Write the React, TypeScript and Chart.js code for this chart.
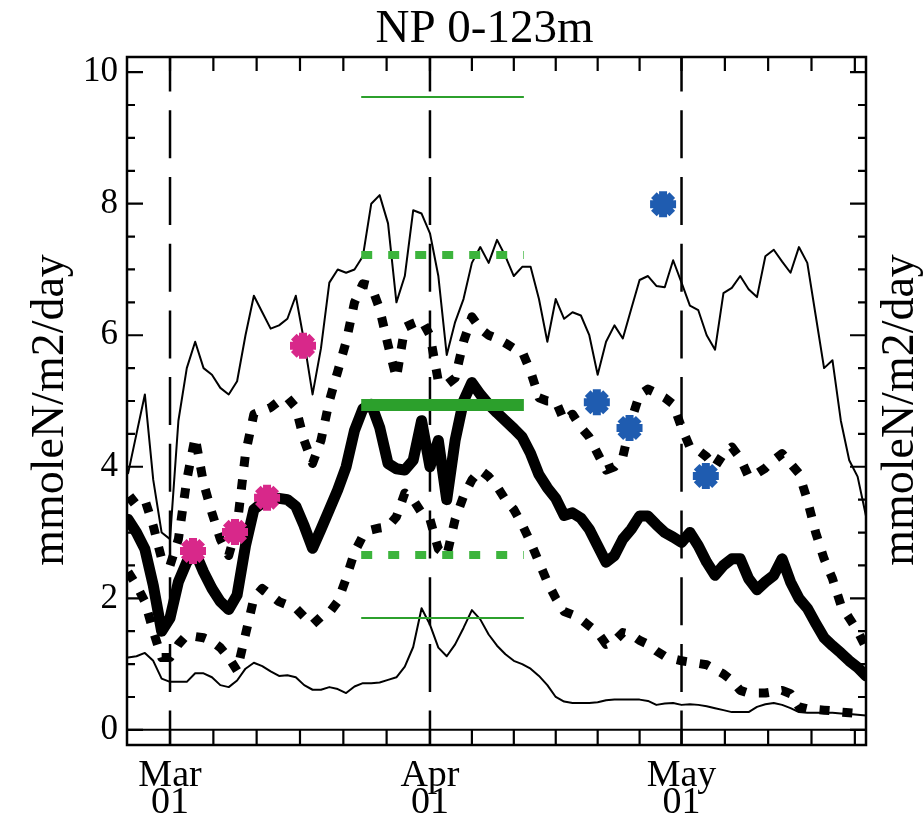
import React, { useEffect, useRef } from "react";
import { Chart, registerables } from "chart.js";

Chart.register(...registerables);

const chartTitle = "NP 0-123m";
const axisTitle = "mmoleN/m2/day";

// days counted from 1 March
const days = [
  -5, -4, -3, -2, -1, 0, 1, 2, 3, 4, 5, 6, 7, 8, 9, 10, 11, 12, 13, 14, 15, 16, 17, 18, 19, 20,
  21, 22, 23, 24, 25, 26, 27, 28, 29, 30, 31, 32, 33, 34, 35, 36, 37, 38, 39, 40, 41, 42, 43, 44,
  45, 46, 47, 48, 49, 50, 51, 52, 53, 54, 55, 56, 57, 58, 59, 60, 61, 62, 63, 64, 65, 66, 67, 68,
  69, 70, 71, 72, 73, 74, 75, 76, 77, 78, 79, 80, 81, 82, 83,
];

const maxFlux = [
  3.9, 4.5, 5.1, 3.8, 3.0, 2.9,
  4.7, 5.5, 5.9, 5.5, 5.4, 5.2, 5.1, 5.3, 6.0, 6.6,
  6.35, 6.1, 6.15, 6.25, 6.6, 5.9, 5.1, 5.8, 6.8, 7.0,
  6.95, 7.0, 7.2, 8.0, 8.13, 7.7, 6.5, 6.9, 7.9, 7.85,
  7.55, 6.9, 5.7, 6.2, 6.55, 7.1, 7.34, 7.1, 7.45, 7.2,
  6.9, 7.04, 7.04, 6.55, 5.9, 6.55, 6.25, 6.35, 6.3, 6.0,
  5.4, 5.9, 6.15, 5.95, 6.4, 6.84, 6.9, 6.75, 6.73, 7.14,
  6.8, 6.45, 6.38, 6.0, 5.78, 6.64, 6.72, 6.9, 6.7, 6.58,
  7.2, 7.3, 7.12, 6.95, 7.34, 7.1, 6.3, 5.5, 5.62, 4.7,
  4.1, 3.85, 3.25,
];

const minFlux = [
  1.1, 1.12, 1.17, 1.05, 0.78, 0.73,
  0.73, 0.73, 0.86, 0.86, 0.8, 0.68, 0.65, 0.75, 0.93, 1.02,
  0.97, 0.89, 0.82, 0.83, 0.8, 0.68, 0.61, 0.61, 0.65, 0.62,
  0.56, 0.66, 0.71, 0.71, 0.72, 0.76, 0.8, 0.96, 1.26, 1.85,
  1.6, 1.25, 1.12, 1.3, 1.55, 1.82, 1.68, 1.45, 1.28, 1.15,
  1.05, 1.0, 0.93, 0.82, 0.68, 0.5, 0.43, 0.41, 0.41, 0.41,
  0.42, 0.45, 0.46, 0.46, 0.46, 0.46, 0.44, 0.38, 0.4, 0.41,
  0.38, 0.39, 0.38, 0.36, 0.33, 0.3, 0.27, 0.27, 0.27, 0.35,
  0.39, 0.41, 0.38, 0.33, 0.27, 0.26, 0.26, 0.26, 0.26, 0.25,
  0.24, 0.23, 0.22,
];

const meanFlux = [
  3.2, 3.0, 2.75, 2.2, 1.5, 1.7,
  2.25, 2.55, 2.7, 2.4, 2.15, 1.95, 1.83, 2.05, 2.8, 3.35,
  3.45, 3.5, 3.52, 3.5, 3.4, 3.1, 2.76, 3.05, 3.35, 3.65,
  4.0, 4.55, 4.88, 4.95, 4.6, 4.05, 3.97, 3.95, 4.1, 4.7,
  4.0, 4.4, 3.5, 4.4, 5.0, 5.28, 5.1, 4.95, 4.82, 4.7,
  4.58, 4.45, 4.2, 3.88, 3.68, 3.52, 3.26, 3.3, 3.22, 3.05,
  2.8, 2.55, 2.65, 2.9, 3.05, 3.25, 3.25, 3.12, 3.0, 2.93,
  2.85, 3.0, 2.8, 2.55, 2.35, 2.5, 2.6, 2.6, 2.3, 2.13,
  2.25, 2.35, 2.6, 2.25, 2.0, 1.85, 1.62, 1.4, 1.28, 1.17,
  1.05, 0.95, 0.82,
];

const upperBand = [
  3.45, 3.55, 3.5, 3.1, 2.6, 2.5,
  2.9, 3.8, 4.45, 3.75, 3.3, 2.9, 2.65, 3.1, 4.2, 4.8,
  4.85, 4.9, 5.0, 5.05, 4.9, 4.4, 4.05, 4.4, 5.0, 5.45,
  5.9, 6.5, 6.78, 6.75, 6.4, 5.85, 5.35, 6.12, 6.18, 6.23,
  6.0, 5.3, 5.25, 5.35, 5.9, 6.28, 6.1, 6.0, 5.95, 5.88,
  5.8, 5.75, 5.45, 5.05, 5.0, 5.0, 4.7, 4.8, 4.6, 4.45,
  4.2, 3.95, 4.0, 4.15, 4.7, 5.1, 5.18, 5.12, 5.05, 4.95,
  4.6, 4.3, 4.25, 4.15, 4.0, 4.2, 4.3, 4.13, 3.85, 3.9,
  3.98, 4.1, 4.2, 4.05, 3.9, 3.5, 3.0, 2.6, 2.3, 1.9,
  1.7, 1.5, 1.25,
];

const lowerBand = [
  2.4, 2.2, 1.95, 1.5, 1.1, 1.1,
  1.3, 1.44, 1.42, 1.4, 1.35, 1.25, 1.1, 0.9, 1.45, 2.0,
  2.15, 2.05, 1.95, 1.9, 1.85, 1.72, 1.6, 1.72, 1.78, 1.95,
  2.3, 2.7, 2.95, 3.04, 3.07, 3.09, 3.24, 3.6, 3.5, 3.3,
  3.2, 2.75, 2.65, 3.2, 3.55, 3.8, 3.95, 3.85, 3.7, 3.5,
  3.35, 3.12, 2.85, 2.55, 2.25, 2.0, 1.8, 1.75, 1.68, 1.58,
  1.48, 1.3, 1.35, 1.48, 1.45, 1.36, 1.3, 1.2, 1.12, 1.08,
  1.05, 1.03, 1.01, 0.99, 0.92, 0.85, 0.75, 0.6, 0.56, 0.56,
  0.56, 0.58, 0.6, 0.55, 0.35, 0.32, 0.31, 0.3, 0.29, 0.27,
  0.26, 0.25, 0.25,
];

// observation window (days from 1 March) and reference levels
const obsWindow = [22.8, 42.2];
const obsThinLevels = [9.62, 1.7];
const obsDottedLevels = [7.22, 2.66];
const obsMeanLevel = 4.94;

const magentaDays = [2.74, 7.75, 11.57, 15.86];
const magentaValues = [2.72, 3.01, 3.53, 5.84];
const blueDays = [50.9, 54.8, 58.8, 63.9];
const blueValues = [4.98, 4.59, 7.99, 3.86];

const xRange = [-5.13, 83];
const yRange = [-0.23, 10.23];
const xMajorTicks = [0, 31, 61];
const xMajorLabels = [["Mar", "01"], ["Apr", "01"], ["May", "01"]];
const xMinorTicks = [5.17, 10.33, 15.5, 20.67, 25.83, 36, 41, 46, 51, 56, 66.17, 71.33, 76.5, 81.67];
const yMajorTicks = [0, 2, 4, 6, 8, 10];
const yMinorTicks = [0.5, 1, 1.5, 2.5, 3, 3.5, 4.5, 5, 5.5, 6.5, 7, 7.5, 8.5, 9, 9.5];

const SERIF = "'Liberation Serif', 'Times New Roman', serif";
const GREEN = "#2ca02c";
const GREEN_DOT = "#3cb43c";
const MAGENTA = "#d8288a";
const BLUE = "#1f5cb0";

const pts = (xs: number[], ys: number[]) => xs.map((x, i) => ({ x, y: ys[i] }));
const hline = (v: number) => [
  { x: obsWindow[0], y: v },
  { x: obsWindow[1], y: v },
];

const idlFrame = {
  id: "idlFrame",
  beforeDatasetsDraw(chart: any) {
    const { ctx, chartArea: a, scales } = chart;
    const x = scales.x;
    const y = scales.y;
    ctx.save();
    ctx.strokeStyle = "#000";
    ctx.lineWidth = 2.5;
    ctx.setLineDash([48, 18.7]);
    ctx.lineDashOffset = 13.4;
    for (const v of xMajorTicks) {
      const px = x.getPixelForValue(v);
      ctx.beginPath();
      ctx.moveTo(px, a.top);
      ctx.lineTo(px, a.bottom);
      ctx.stroke();
    }
    ctx.setLineDash([]);
    ctx.lineWidth = 2;
    const y0 = y.getPixelForValue(0);
    ctx.beginPath();
    ctx.moveTo(a.left, y0);
    ctx.lineTo(a.right, y0);
    ctx.stroke();
    ctx.restore();
  },
  afterDraw(chart: any) {
    const { ctx, chartArea: a, scales } = chart;
    const x = scales.x;
    const y = scales.y;
    ctx.save();
    ctx.strokeStyle = "#000";
    ctx.lineWidth = 2.5;
    ctx.strokeRect(a.left, a.top, a.right - a.left, a.bottom - a.top);
    ctx.lineWidth = 2.2;
    ctx.beginPath();
    for (const v of [...xMajorTicks, ...xMinorTicks]) {
      const px = x.getPixelForValue(v);
      ctx.moveTo(px, a.bottom);
      ctx.lineTo(px, a.bottom - 15);
      ctx.moveTo(px, a.top);
      ctx.lineTo(px, a.top + 14);
    }
    for (const v of yMajorTicks) {
      const py = y.getPixelForValue(v);
      ctx.moveTo(a.left, py);
      ctx.lineTo(a.left + 16, py);
      ctx.moveTo(a.right, py);
      ctx.lineTo(a.right - 16, py);
    }
    for (const v of yMinorTicks) {
      const py = y.getPixelForValue(v);
      ctx.moveTo(a.left, py);
      ctx.lineTo(a.left + 8, py);
      ctx.moveTo(a.right, py);
      ctx.lineTo(a.right - 8, py);
    }
    ctx.stroke();

    ctx.fillStyle = "#000";
    ctx.font = `47px ${SERIF}`;
    ctx.textAlign = "center";
    ctx.textBaseline = "alphabetic";
    ctx.fillText(chartTitle, (a.left + a.right) / 2 - 12, 42);

    ctx.font = `46px ${SERIF}`;
    const cy = (a.top + a.bottom) / 2 + 9;
    for (const bx of [63, 913]) {
      ctx.save();
      ctx.translate(bx, cy);
      ctx.rotate(-Math.PI / 2);
      ctx.fillText(axisTitle, 0, 0);
      ctx.restore();
    }
    ctx.restore();
  },
};

export default function App() {
  const ref = useRef<HTMLCanvasElement | null>(null);

  useEffect(() => {
    if (!ref.current) return;
    const lineDs = (
      data: any[],
      width: number,
      color: string,
      dash: number[] = [],
      order = 10,
      cap: "butt" | "round" = "round"
    ) => ({
      type: "line" as const,
      data,
      borderColor: color,
      borderWidth: width,
      borderDash: dash,
      borderCapStyle: dash.length ? ("butt" as const) : cap,
      borderJoinStyle: "round" as const,
      pointRadius: 0,
      fill: false,
      tension: 0,
      order,
    });
    const markerDs = (data: any[], color: string) => ({
      type: "line" as const,
      data,
      showLine: false,
      pointStyle: "star" as const,
      pointRadius: 13,
      pointBorderWidth: 8,
      pointBorderColor: color,
      pointBackgroundColor: color,
      borderColor: color,
      order: 0,
    });

    const chart = new Chart(ref.current, {
      type: "line",
      data: {
        datasets: [
          lineDs(pts(days, maxFlux), 2, "#000", [], 12),
          lineDs(pts(days, minFlux), 2, "#000", [], 12),
          lineDs(pts(days, upperBand), 9, "#000", [10, 13], 11),
          lineDs(pts(days, lowerBand), 9, "#000", [10, 13], 11),
          lineDs(pts(days, meanFlux), 11, "#000", [], 10),
          ...obsThinLevels.map((v) => lineDs(hline(v), 2, GREEN, [], 5, "butt")),
          ...obsDottedLevels.map((v) => lineDs(hline(v), 8, GREEN_DOT, [11, 16], 5)),
          lineDs(hline(obsMeanLevel), 12, GREEN, [], 5, "butt"),
          markerDs(pts(magentaDays, magentaValues), MAGENTA),
          markerDs(pts(blueDays, blueValues), BLUE),
        ] as any,
      },
      options: {
        responsive: false,
        animation: false,
        events: [],
        layout: { padding: { top: 57, left: 0, right: 0, bottom: 0 } },
        plugins: {
          legend: { display: false },
          tooltip: { enabled: false },
          title: { display: false },
        },
        scales: {
          x: {
            type: "linear",
            position: "bottom",
            min: xRange[0],
            max: xRange[1],
            grid: { display: false, drawTicks: false },
            border: { display: false },
            afterBuildTicks: (s: any) => {
              s.ticks = xMajorTicks.map((v) => ({ value: v }));
            },
            afterFit: (s: any) => {
              s.height = 73;
            },
            ticks: {
              autoSkip: false,
              maxRotation: 0,
              minRotation: 0,
              padding: 18,
              color: "#000",
              font: { family: SERIF, size: 38, lineHeight: 0.71 },
              callback: (_v: any, i: number) => xMajorLabels[i],
            },
          },
          y: {
            type: "linear",
            position: "left",
            min: yRange[0],
            max: yRange[1],
            grid: { display: false, drawTicks: false },
            border: { display: false },
            afterBuildTicks: (s: any) => {
              s.ticks = yMajorTicks.map((v) => ({ value: v }));
            },
            afterFit: (s: any) => {
              s.width = 127;
            },
            ticks: {
              padding: 9,
              color: "#000",
              font: { family: SERIF, size: 35 },
              callback: (v: any) => String(v),
            },
          },
          y2: {
            type: "linear",
            position: "right",
            min: yRange[0],
            max: yRange[1],
            grid: { display: false, drawTicks: false },
            border: { display: false },
            ticks: { display: false },
            afterFit: (s: any) => {
              s.width = 58;
            },
          },
        },
      },
      plugins: [idlFrame],
    });
    return () => chart.destroy();
  }, []);

  return (
    <div style={{ position: "fixed", left: 0, top: 0, width: 924, height: 818, background: "#fff" }}>
      <canvas ref={ref} width={924} height={818} style={{ display: "block" }} />
    </div>
  );
}
